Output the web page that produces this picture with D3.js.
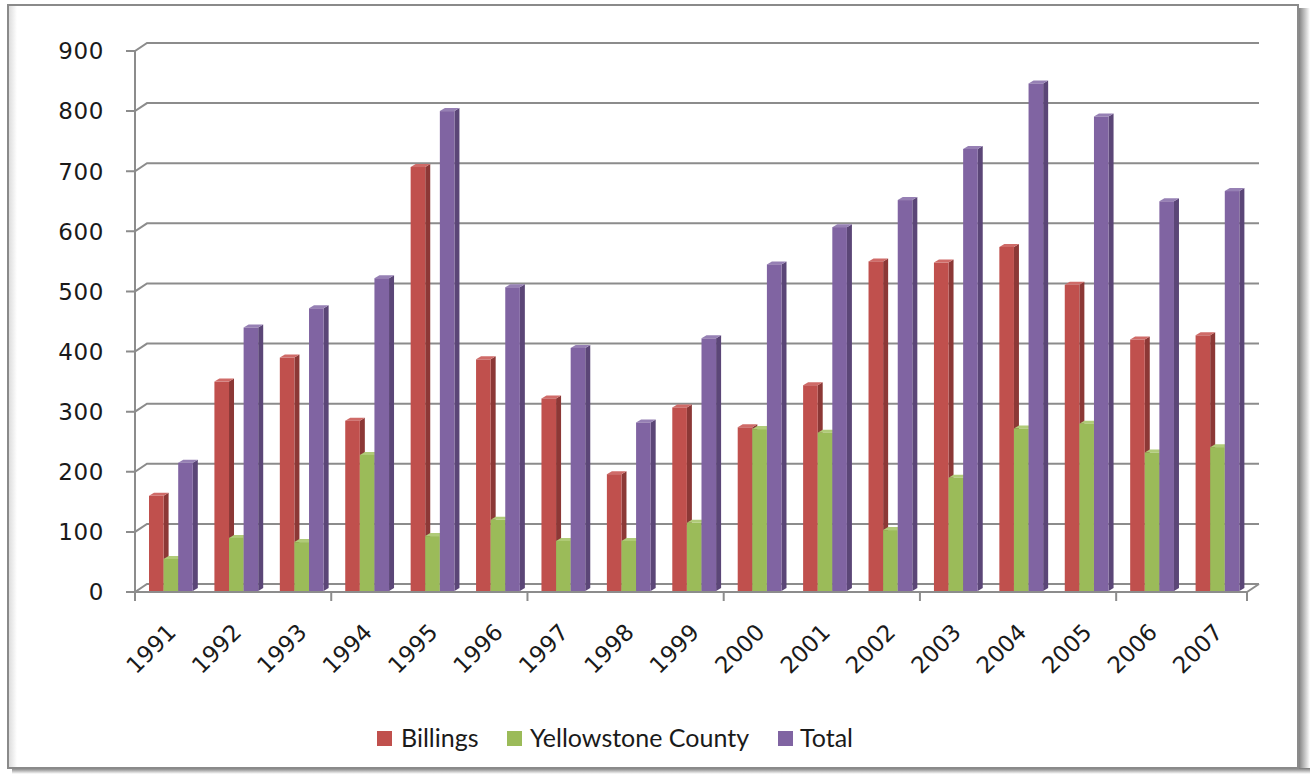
<!DOCTYPE html>
<html>
<head>
<meta charset="utf-8">
<script src="https://cdn.jsdelivr.net/npm/d3@7"></script>
<style>
  body { margin: 0; background: #fff; }
  svg { display: block; }
</style>
</head>
<body>
<svg id="chart" width="1310" height="774"></svg>
<script>
const years = ['1991', '1992', '1993', '1994', '1995', '1996', '1997', '1998', '1999',
  '2000', '2001', '2002', '2003', '2004', '2005', '2006', '2007'];
const billings = [160, 350, 390, 285, 707, 387, 322, 196, 307, 274, 344, 550, 548, 574, 511, 420, 427];
const yellowstone = [55, 90, 83, 228, 93, 120, 85, 85, 115, 271, 265, 103, 190, 272, 280, 232, 241];
const total = [215, 440, 472, 522, 800, 507, 406, 282, 422, 545, 607, 652, 737, 846, 791, 650, 667];
const seriesNames = ['Billings', 'Yellowstone County', 'Total'];
const yTicks = [0, 100, 200, 300, 400, 500, 600, 700, 800, 900];

const colors = [
  { front: '#c0504d', side: '#8c3836', top: '#cf6b68' },
  { front: '#9bbb59', side: '#708a3d', top: '#b0cb78' },
  { front: '#8064a2', side: '#5b4677', top: '#9680b4' },
];
const seriesData = [billings, yellowstone, total];

const svg = d3.select('#chart');

// frame with a soft shadow on the right and bottom
const defs = svg.append('defs');
const gr = defs.append('linearGradient').attr('id', 'shR');
gr.append('stop').attr('offset', '0%').attr('stop-color', '#777');
gr.append('stop').attr('offset', '100%').attr('stop-color', '#fff');
const gb = defs.append('linearGradient').attr('id', 'shB')
  .attr('x1', 0).attr('y1', 0).attr('x2', 0).attr('y2', 1);
gb.append('stop').attr('offset', '0%').attr('stop-color', '#777');
gb.append('stop').attr('offset', '100%').attr('stop-color', '#fff');
const gl = defs.append('linearGradient').attr('id', 'shL');
gl.append('stop').attr('offset', '0%').attr('stop-color', '#ddd');
gl.append('stop').attr('offset', '100%').attr('stop-color', '#fff');

svg.append('rect').attr('x', 1298).attr('y', 8).attr('width', 12).attr('height', 766)
  .attr('fill', 'url(#shR)');
svg.append('rect').attr('x', 12).attr('y', 768).attr('width', 1298).attr('height', 6)
  .attr('fill', 'url(#shB)');
svg.append('rect').attr('x', 9).attr('y', 6).attr('width', 8).attr('height', 761)
  .attr('fill', 'url(#shL)');
svg.append('rect').attr('x', 8).attr('y', 5).attr('width', 1290).attr('height', 763)
  .attr('fill', 'none').attr('stroke', '#8a8a8a').attr('stroke-width', 2);

// geometry of the 3D plot
const depthX = 12;
const depthY = -8;
const x0 = 135;
const x1 = 1247;

const x = d3.scaleBand().domain(years).range([x0, x1]);
const y = d3.scaleLinear().domain([0, 900]).range([592, 51]);

const axisColor = '#8c8c8c';

// gridlines on the back wall with the short diagonal from the front axis
const grid = svg.append('g');
yTicks.forEach((t) => {
  grid.append('path')
    .attr('d', `M${x0 - 9},${y(t)} L${x0},${y(t)} L${x0 + depthX},${y(t) + depthY} L${x1 + depthX},${y(t) + depthY}`)
    .attr('fill', 'none').attr('stroke', axisColor).attr('stroke-width', 2);
});
// floor front edge + right diagonal
grid.append('path')
  .attr('d', `M${x0},${y(0)} L${x1},${y(0)} L${x1 + depthX},${y(0) + depthY}`)
  .attr('fill', 'none').attr('stroke', axisColor).attr('stroke-width', 2);
// vertical value axis
grid.append('line').attr('x1', x0).attr('x2', x0).attr('y1', y(900)).attr('y2', y(0))
  .attr('stroke', axisColor).attr('stroke-width', 2);
// category ticks every 3 years
years.forEach((yr, i) => {
  if (i % 3 === 0) {
    grid.append('line').attr('x1', x(yr)).attr('x2', x(yr))
      .attr('y1', y(0)).attr('y2', y(0) + 9)
      .attr('stroke', axisColor).attr('stroke-width', 2);
  }
});
grid.append('line').attr('x1', x1).attr('x2', x1).attr('y1', y(0)).attr('y2', y(0) + 9)
  .attr('stroke', axisColor).attr('stroke-width', 2);

// y tick labels
svg.append('g').selectAll('text').data(yTicks).join('text')
  .attr('x', 104).attr('y', (d) => y(d))
  .attr('dy', '0.36em')
  .attr('text-anchor', 'end')
  .attr('font-family', 'DejaVu Sans, Verdana, sans-serif')
  .attr('font-size', 23)
  .attr('letter-spacing', 0.6)
  .attr('fill', '#1a1a1a')
  .text((d) => d);

// bars
const barW = 14.6;
const sideX = 5;
const sideY = -3;
const groupOffset = 14;
const base = y(0) - 1;
const bars = svg.append('g');
years.forEach((yr, i) => {
  seriesData.forEach((s, k) => {
    const bx = x(yr) + groupOffset + k * barW;
    const by = y(s[i]);
    const c = colors[k];
    bars.append('path')
      .attr('d', `M${bx + barW},${base} L${bx + barW + sideX},${base + sideY} L${bx + barW + sideX},${by + sideY} L${bx + barW},${by} Z`)
      .attr('fill', c.side);
    bars.append('path')
      .attr('d', `M${bx},${by} L${bx + sideX},${by + sideY} L${bx + barW + sideX},${by + sideY} L${bx + barW},${by} Z`)
      .attr('fill', c.top);
    bars.append('rect')
      .attr('x', bx).attr('y', by)
      .attr('width', barW).attr('height', base - by)
      .attr('fill', c.front);
  });
});

// x labels rotated
svg.append('g').selectAll('text').data(years).join('text')
  .attr('transform', (d) => `translate(${x(d) + x.bandwidth() / 2 + 4},${y(0) + 36}) rotate(-45)`)
  .attr('text-anchor', 'end')
  .attr('dy', '0.35em')
  .attr('font-family', 'DejaVu Sans, Verdana, sans-serif')
  .attr('font-size', 23)
  .attr('fill', '#1a1a1a')
  .text((d) => d);

// legend
const legendItems = [
  { name: seriesNames[0], sx: 377, tx: 401 },
  { name: seriesNames[1], sx: 507, tx: 530 },
  { name: seriesNames[2], sx: 778, tx: 800 },
];
const legend = svg.append('g');
legendItems.forEach((d, k) => {
  legend.append('rect').attr('x', d.sx).attr('y', 731).attr('width', 15).attr('height', 15)
    .attr('fill', colors[k].front);
  legend.append('text').attr('x', d.tx).attr('y', 738.5).attr('dy', '0.35em')
    .attr('font-family', 'Lato, Open Sans, sans-serif')
    .attr('font-size', 25)
    .attr('fill', '#1a1a1a')
    .text(d.name);
});
</script>
</body>
</html>
